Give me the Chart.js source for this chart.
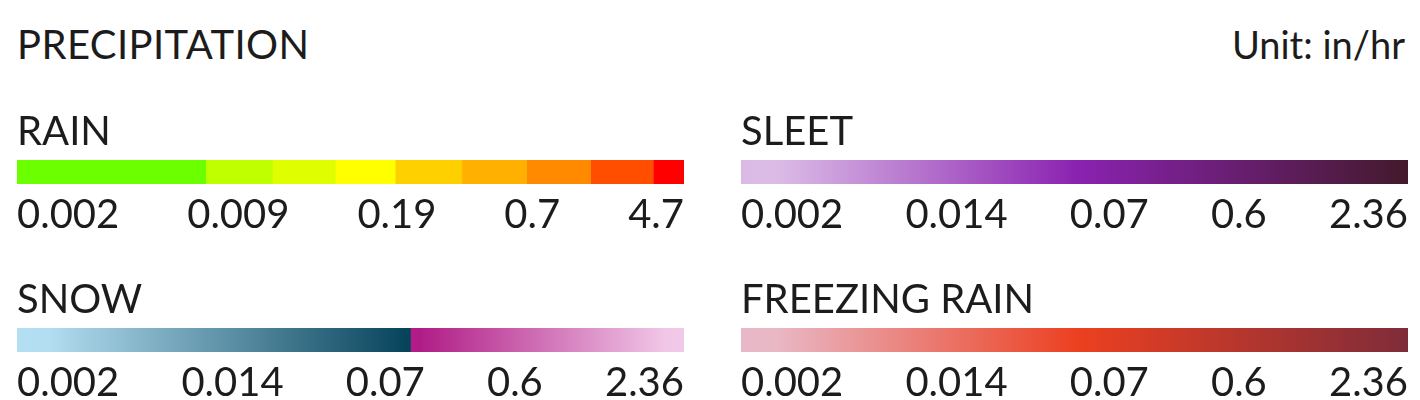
<!DOCTYPE html>
<html>
<head>
<meta charset="utf-8">
<script src="https://cdn.jsdelivr.net/npm/chart.js@4"></script>
<style>
  body { margin: 0; background: #fff; width: 1420px; height: 400px; overflow: hidden; font-family: Lato, "Noto Sans", sans-serif; color: #1c1c1c; }
  .head { position: absolute; top: 22px; font-size: 38px; line-height: 44px; }
  .box { position: absolute; width: 667px; height: 134px; }
</style>
</head>
<body>
<div class="head" style="left:17px; font-size:40px; letter-spacing:0.4px">PRECIPITATION</div>
<div class="head" style="right:15px">Unit: in/hr</div>
<div class="box" style="left:17px; top:112px"><canvas id="rain"></canvas></div>
<div class="box" style="left:741px; top:112px"><canvas id="sleet"></canvas></div>
<div class="box" style="left:17px; top:280px"><canvas id="snow"></canvas></div>
<div class="box" style="left:741px; top:280px"><canvas id="freezing"></canvas></div>
<script>
// legend data
const rainTicks = ['0.002', '0.009', '0.19', '0.7', '4.7'];
const mixTicks = ['0.002', '0.014', '0.07', '0.6', '2.36'];
// share of bar width taken by each colour step
const rainSteps = [28.3, 10, 9.4, 9, 10, 9.7, 9.6, 9.4, 4.6];
const sleetSteps = [100];
const snowSteps = [59, 41];
const freezingSteps = [100];

const rainColors = ['#6cff00', '#bfff00', '#dfff00', '#ffff00', '#ffd000', '#ffb000', '#ff8a00', '#ff4e00', '#ff0000'];
// gradient stops per segment [offset, colour]
const sleetStops = [[[0, '#dabae5'], [0.05, '#dcbde6'], [0.505, '#8a22b0'], [1, '#431a2c']]];
const snowStops = [
    [[0, '#b4def2'], [0.08, '#b3ddf0'], [1, '#05425a']],
    [[0, '#b8198c'], [0.03, '#b01c86'], [0.93, '#f0c6e6'], [1, '#f0c8e8']]
];
const freezingStops = [[[0, '#e8b8c8'], [0.05, '#e9b8c6'], [0.505, '#ec4020'], [1, '#7e2c3a']]];

const TICK_FONT = 40;
const TITLE_FONT = 40;

function gradientFill(stops, index, steps) {
    return (ctx) => {
        const chart = ctx.chart;
        const xs = chart.scales.x;
        if (!chart.chartArea || !xs) return stops[index][0][1];
        const from = steps.slice(0, index).reduce((a, b) => a + b, 0);
        const x0 = xs.getPixelForValue(from);
        const x1 = xs.getPixelForValue(from + steps[index]);
        const g = chart.ctx.createLinearGradient(x0, 0, x1, 0);
        stops[index].forEach(s => g.addColorStop(s[0], s[1]));
        return g;
    };
}

function makeLegend(id, title, steps, ticks, colors, stops) {
    const total = steps.reduce((a, b) => a + b, 0);
    const datasets = steps.map((v, i) => ({
        data: [v],
        backgroundColor: colors ? colors[i] : gradientFill(stops, i, steps),
        borderWidth: 0,
        barPercentage: 1,
        categoryPercentage: 1
    }));

    return new Chart(document.getElementById(id), {
        type: 'bar',
        data: { labels: [title], datasets: datasets },
        options: {
            indexAxis: 'y',
            responsive: true,
            maintainAspectRatio: false,
            animation: false,
            layout: { padding: 0 },
            plugins: {
                legend: { display: false },
                tooltip: { enabled: false },
                title: {
                    display: true,
                    text: title,
                    align: 'start',
                    color: '#1c1c1c',
                    font: { family: 'Lato', size: TITLE_FONT, weight: 'normal', lineHeight: 1 },
                    padding: { top: 0, bottom: 8 }
                }
            },
            scales: {
                y: { display: false, stacked: true },
                x: {
                    stacked: true,
                    min: 0,
                    max: total,
                    grid: { display: false, drawTicks: false },
                    border: { display: false },
                    ticks: {
                        autoSkip: false,
                        maxRotation: 0,
                        padding: 11,
                        color: '#1c1c1c',
                        font: { family: 'Lato', size: TICK_FONT, lineHeight: 1 },
                        callback: (v, i) => ticks[i]
                    },
                    // spread the labels like a space-between row
                    afterBuildTicks: (scale) => {
                        const c = scale.ctx;
                        c.save();
                        c.font = TICK_FONT + 'px Lato';
                        const w = ticks.map(t => c.measureText(t).width);
                        c.restore();
                        const width = scale.width || scale.maxWidth;
                        const gap = (width - w.reduce((a, b) => a + b, 0)) / (ticks.length - 1);
                        let pos = 0;
                        scale.ticks = w.map(tw => {
                            const centre = pos + tw / 2;
                            pos += tw + gap;
                            return { value: centre / width * total };
                        });
                    },
                    afterFit: (scale) => {
                        scale.paddingLeft = 0;
                        scale.paddingRight = 0;
                    }
                }
            }
        }
    });
}

makeLegend('rain', 'RAIN', rainSteps, rainTicks, rainColors, null);
makeLegend('sleet', 'SLEET', sleetSteps, mixTicks, null, sleetStops);
makeLegend('snow', 'SNOW', snowSteps, mixTicks, null, snowStops);
makeLegend('freezing', 'FREEZING RAIN', freezingSteps, mixTicks, null, freezingStops);
</script>
</body>
</html>
